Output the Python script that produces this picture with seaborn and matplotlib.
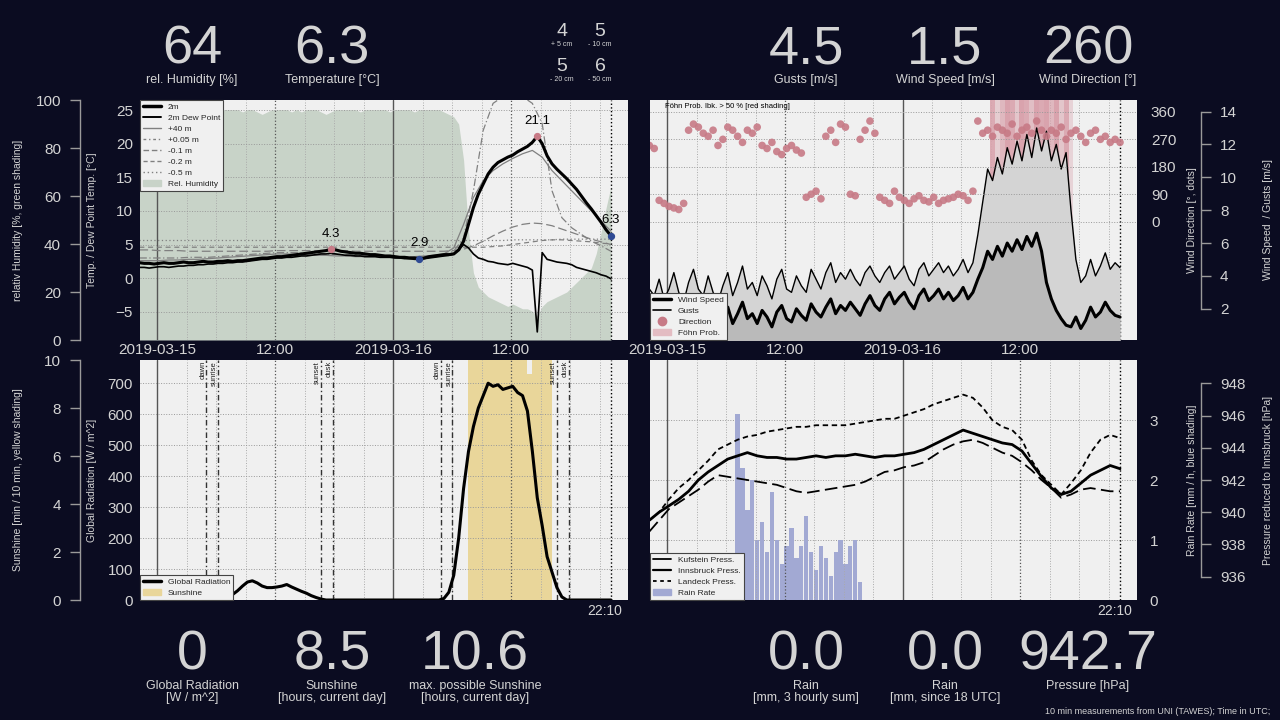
import numpy as np
import pandas as pd
import seaborn as sns
import matplotlib
matplotlib.use('Agg')
from matplotlib import pyplot as plt
import matplotlib.dates as mdates
from matplotlib.patches import Patch
from matplotlib.lines import Line2D

sns.set_style('white')
plt.rcParams['font.family'] = ['Liberation Sans', 'DejaVu Sans']

BG = '#0b0c21'
FG = '#d4d4d4'
PANEL = '#f0f0f0'
W, H = 1280, 720

# ---- time axes (10 min data resampled to 30 min / 60 min) ----
t30 = pd.date_range('2019-03-14 22:10', '2019-03-16 22:10', freq='30min')
t60 = pd.date_range('2019-03-14 22:10', '2019-03-16 22:10', freq='60min')
NOW = pd.Timestamp('2019-03-16 22:10')
X0 = pd.Timestamp('2019-03-14 22:14')
X1 = pd.Timestamp('2019-03-16 23:54')

# ---- temperature / humidity (30 min) ----
t2m = [2.3, 2.2, 2.2, 2.1, 2.2, 2.3, 2.2, 2.2, 2.3, 2.4,
       2.3, 2.3, 2.4, 2.5, 2.4, 2.4, 2.5, 2.5, 2.6, 2.5,
       2.6, 2.6, 2.7, 2.8, 2.9, 3.0, 3.0, 3.1, 3.2, 3.2,
       3.3, 3.4, 3.5, 3.6, 3.7, 3.8, 3.9, 4.0, 4.1, 4.3,
       4.2, 4.0, 3.9, 3.8, 3.7, 3.7, 3.6, 3.5, 3.5, 3.4,
       3.3, 3.3, 3.2, 3.1, 3.1, 3.0, 3.0, 2.9, 3.0, 3.2,
       3.3, 3.4, 3.5, 3.5, 3.6, 4.2, 5.5, 8.0, 10.5, 12.5,
       14.0, 15.5, 16.5, 17.2, 17.6, 18.0, 18.3, 18.8, 19.2, 19.6,
       20.2, 21.1, 20.0, 18.2, 17.0, 16.2, 15.5, 14.8, 14.0, 13.2,
       12.2, 11.2, 10.3, 9.3, 8.3, 7.2, 6.3]
dewp = [1.6, 1.6, 1.5, 1.6, 1.7, 1.7, 1.6, 1.7, 1.8, 1.8,
        1.9, 1.9, 2.0, 2.0, 2.1, 2.1, 2.2, 2.2, 2.3, 2.3,
        2.4, 2.4, 2.5, 2.6, 2.7, 2.8, 2.8, 2.9, 3.0, 3.0,
        3.1, 3.1, 3.2, 3.3, 3.3, 3.4, 3.5, 3.6, 3.6, 3.7,
        3.6, 3.5, 3.4, 3.4, 3.3, 3.3, 3.2, 3.2, 3.2, 3.1,
        3.1, 3.1, 3.0, 3.0, 2.9, 2.9, 2.8, 2.8, 2.9, 3.0,
        3.1, 3.2, 3.3, 3.4, 3.6, 4.2, 5.0, 4.5, 3.6, 3.0,
        2.8, 2.5, 2.4, 2.2, 2.1, 2.0, 2.2, 2.0, 1.8, 1.6,
        1.2, -8.0, 3.8, 2.8, 2.6, 2.4, 2.3, 2.2, 2.0, 1.6,
        1.4, 1.2, 1.0, 0.8, 0.5, 0.3, -0.1]
rh = [96, 96, 95, 96, 96, 97, 96, 96, 95, 95,
      96, 96, 96, 95, 94, 95, 96, 96, 96, 96,
      96, 95, 96, 96, 95, 94, 95, 96, 96, 96,
      96, 95, 96, 95, 96, 96, 96, 95, 94, 95,
      96, 96, 96, 96, 96, 95, 96, 96, 96, 96,
      96, 95, 96, 96, 96, 96, 95, 96, 96, 96,
      96, 96, 95, 94, 93, 90, 75, 45, 28, 22,
      20, 18, 17, 16, 15, 14, 15, 14, 13, 13,
      12, 10, 14, 16, 17, 18, 19, 20, 22, 24,
      26, 28, 30, 36, 45, 55, 64]

# ---- air / soil temperatures (60 min) ----
t40m = [2.6, 2.6, 2.6, 2.7, 2.7, 2.8, 2.8, 2.9, 3.0, 3.1,
        3.2, 3.3, 3.4, 3.5, 3.6, 3.6, 3.5, 3.5, 3.4, 3.4,
        3.3, 3.3, 3.2, 3.2, 3.2, 3.1, 3.1, 3.1, 3.2, 3.3,
        3.4, 3.6, 4.5, 8.0, 12.0, 14.5, 16.0, 17.0, 17.8, 18.5,
        19.0, 18.0, 16.0, 14.5, 13.0, 11.5, 10.0, 8.5, 7.0]
t005 = [3.0, 3.0, 3.0, 3.0, 3.0, 3.1, 3.1, 3.1, 3.2, 3.3,
        3.4, 3.5, 3.6, 3.7, 3.8, 3.8, 3.8, 3.7, 3.6, 3.6,
        3.5, 3.5, 3.4, 3.4, 3.3, 3.3, 3.2, 3.2, 3.2, 3.2,
        3.3, 3.5, 4.0, 6.0, 13.0, 22.0, 26.0, 27.0, 27.5, 27.0,
        26.0, 23.0, 13.0, 9.0, 7.5, 6.5, 5.5, 4.8, 4.0]
t010 = [4.2, 4.2, 4.1, 4.1, 4.1, 4.0, 4.0, 4.0, 4.0, 4.0,
        4.0, 4.0, 4.0, 4.0, 4.1, 4.1, 4.1, 4.1, 4.1, 4.1,
        4.1, 4.1, 4.0, 4.0, 4.0, 4.0, 4.0, 4.0, 4.0, 4.0,
        4.0, 4.0, 4.1, 4.3, 4.8, 5.5, 6.3, 7.0, 7.6, 8.0,
        8.2, 8.1, 7.8, 7.3, 6.8, 6.3, 5.8, 5.4, 5.0]
t020 = [4.6, 4.6, 4.6, 4.6, 4.6, 4.6, 4.6, 4.6, 4.6, 4.6,
        4.6, 4.6, 4.6, 4.6, 4.6, 4.6, 4.6, 4.6, 4.6, 4.6,
        4.6, 4.6, 4.6, 4.6, 4.6, 4.6, 4.6, 4.6, 4.6, 4.6,
        4.6, 4.6, 4.6, 4.6, 4.6, 4.6, 4.7, 4.8, 5.0, 5.2,
        5.4, 5.6, 5.7, 5.7, 5.6, 5.5, 5.4, 5.2, 5.1]
t050 = [5.6, 5.6, 5.6, 5.6, 5.6, 5.6, 5.6, 5.6, 5.6, 5.6,
        5.6, 5.6, 5.6, 5.6, 5.6, 5.6, 5.6, 5.6, 5.6, 5.6,
        5.6, 5.6, 5.6, 5.6, 5.6, 5.6, 5.6, 5.6, 5.6, 5.6,
        5.6, 5.6, 5.6, 5.6, 5.6, 5.6, 5.6, 5.6, 5.7, 5.7,
        5.7, 5.7, 5.7, 5.8, 5.8, 5.8, 5.8, 5.8, 5.8]

# ---- wind (30 min) ----
wspd = [1.4, 1.1, 1.8, 0.9, 1.5, 2.0, 1.2, 0.8, 1.7, 2.2,
        1.4, 1.0, 1.9, 1.3, 0.8, 1.5, 2.1, 1.1, 1.7, 2.4,
        1.4, 1.7, 1.1, 1.9, 1.5, 0.9, 1.8, 2.2, 1.4, 1.2,
        2.0, 1.6, 1.3, 2.3, 1.8, 1.5, 2.1, 2.6, 1.7, 2.2,
        1.9, 2.4, 2.0, 1.6, 2.3, 2.8, 2.2, 1.9, 2.6, 3.0,
        2.3, 2.7, 3.0, 2.4, 2.0, 2.8, 3.2, 2.5, 2.8, 3.2,
        2.6, 3.0, 2.5, 2.8, 3.3, 2.6, 3.0, 3.8, 4.5, 5.5,
        5.0, 5.8, 5.2, 6.0, 5.5, 6.2, 5.6, 6.4, 5.8, 6.6,
        5.5, 3.6, 2.6, 1.9, 1.4, 1.0, 0.9, 1.5, 0.8, 1.3,
        2.1, 1.5, 1.8, 2.4, 1.9, 1.6, 1.5]
gust = [3.2, 2.8, 3.8, 2.6, 3.2, 4.2, 3.0, 2.4, 3.6, 4.4,
        3.2, 2.8, 4.0, 3.0, 2.4, 3.4, 4.2, 2.8, 3.6, 4.6,
        3.2, 3.6, 2.8, 4.0, 3.4, 2.6, 3.8, 4.4, 3.2, 3.0,
        4.0, 3.4, 3.0, 4.4, 3.8, 3.2, 4.2, 4.8, 3.6, 4.2,
        3.8, 4.4, 3.8, 3.4, 4.2, 4.6, 4.0, 3.6, 4.2, 4.6,
        3.8, 4.2, 4.6, 3.8, 3.4, 4.4, 4.8, 4.0, 4.4, 4.8,
        4.2, 4.6, 4.0, 4.4, 5.0, 4.2, 4.8, 6.5, 8.5, 10.5,
        9.8, 11.2, 10.2, 11.8, 10.8, 12.2, 11.0, 12.6, 11.2, 13.0,
        11.6, 12.8, 11.0, 12.0, 10.5, 11.5, 8.0, 5.0, 3.6, 4.0,
        5.0, 4.0, 4.6, 5.4, 4.4, 4.8, 4.5]
wdir = [250, 240, 70, 60, 50, 45, 40, 60, 300, 320,
        310, 290, 280, 300, 250, 270, 310, 300, 280, 260,
        300, 290, 310, 250, 240, 260, 230, 220, 240, 250,
        235, 225, 80, 90, 100, 75, 280, 300, 260, 320,
        310, 90, 85, 270, 300, 330, 290, 80, 70, 60,
        100, 80, 70, 60, 75, 85, 70, 65, 80, 60,
        70, 75, 80, 90, 85, 70, 100, 330, 290, 300,
        280, 310, 300, 290, 320, 280, 300, 310, 290, 330,
        300, 280, 300, 290, 310, 270, 290, 300, 280, 260,
        290, 300, 270, 280, 260, 270, 260]
foehn = [0] * 68 + [30, 45, 90, 65, 80, 95, 90, 70, 95, 90, 75, 95, 90, 95, 80, 95, 70, 90, 60, 40] + [0] * 9

# ---- radiation / sunshine (30 min) ----
grad = [0, 0, 0, 0, 0, 0, 0, 0, 0, 0,
        0, 0, 0, 0, 0, 0, 0, 0, 5, 18,
        30, 45, 58, 62, 55, 45, 40, 40, 42, 45,
        50, 42, 35, 28, 22, 14, 8, 3, 0, 0,
        0, 0, 0, 0, 0, 0, 0, 0, 0, 0,
        0, 0, 0, 0, 0, 0, 0, 0, 0, 0,
        0, 0, 5, 25, 80, 200, 360, 480, 560, 620,
        660, 700, 690, 695, 680, 685, 690, 670, 660, 610,
        480, 330, 240, 140, 90, 40, 10, 0, 0, 0,
        0, 0, 0, 0, 0, 0, 0]
sun = [0] * 67 + [10, 10, 10, 10, 10, 10, 10, 10, 10, 10, 10, 10, 9.4, 10, 10, 10, 10] + [0] * 13
sun_events = ['dawn', 'sunrise', 'sunset', 'dusk', 'dawn', 'sunrise', 'sunset', 'dusk']
sun_times = pd.to_datetime(['2019-03-15 04:59', '2019-03-15 06:10', '2019-03-15 16:39', '2019-03-15 17:52',
                            '2019-03-16 04:51', '2019-03-16 06:02', '2019-03-16 16:39', '2019-03-16 17:52'])

# ---- pressure (60 min) / rain (30 min) ----
p_ibk = [939.5, 940.0, 940.4, 940.8, 941.3, 942.0, 942.5, 942.9, 943.3, 943.5,
         943.7, 943.5, 943.4, 943.4, 943.3, 943.3, 943.4, 943.5, 943.4, 943.5,
         943.5, 943.6, 943.5, 943.4, 943.5, 943.5, 943.6, 943.7, 943.9, 944.2,
         944.5, 944.8, 945.1, 944.9, 944.7, 944.5, 944.3, 944.2, 943.8, 943.0,
         942.2, 941.5, 941.1, 941.3, 941.8, 942.3, 942.6, 942.9, 942.7]
p_kuf = [938.8, 939.5, 940.2, 940.6, 941.0, 941.4, 941.9, 942.3, 942.2, 942.1,
         942.0, 941.9, 941.8, 941.7, 941.5, 941.3, 941.2, 941.3, 941.4, 941.5,
         941.6, 941.7, 941.9, 942.2, 942.5, 942.6, 942.8, 942.9, 943.1, 943.5,
         943.9, 944.2, 944.4, 944.5, 944.3, 944.0, 943.7, 943.5, 943.1, 942.6,
         942.0, 941.5, 940.9, 941.1, 941.4, 941.5, 941.4, 941.3, 941.3]
p_lan = [939.5, 940.0, 940.8, 941.5, 942.0, 942.6, 943.2, 943.9, 944.2, 944.5,
         944.7, 944.8, 945.0, 945.1, 945.2, 945.3, 945.3, 945.4, 945.4, 945.4,
         945.4, 945.5, 945.6, 945.7, 945.8, 945.8, 946.0, 946.2, 946.4, 946.7,
         946.9, 947.1, 947.3, 947.1, 946.5, 945.7, 945.3, 945.1, 944.5, 943.2,
         942.3, 941.7, 941.1, 941.8, 942.6, 943.7, 944.5, 944.8, 944.6]
rain = [0] * 18 + [3.1, 2.2, 1.5, 2.0, 1.0, 1.3, 0.8, 1.8, 1.0, 0.6, 0.9, 1.2,
                   0.7, 0.9, 1.4, 0.8, 0.5, 0.9, 0.7, 0.4, 0.8, 1.0, 0.6, 0.9, 1.0, 0.3] + [0] * 53

# ---- current values ----
top_vals = [('64', 'rel. Humidity [%]', 192), ('6.3', 'Temperature [°C]', 332),
            ('4.5', 'Gusts [m/s]', 806), ('1.5', 'Wind Speed [m/s]', 945), ('260', 'Wind Direction [°]', 1088)]
soil_vals = [('4', '+ 5 cm'), ('5', '- 10 cm'), ('5', '- 20 cm'), ('6', '- 50 cm')]
bot_vals = [('0', 'Global Radiation\n[W / m^2]', 192), ('8.5', 'Sunshine\n[hours, current day]', 332),
            ('10.6', 'max. possible Sunshine\n[hours, current day]', 475),
            ('0.0', 'Rain\n[mm, 3 hourly sum]', 806), ('0.0', 'Rain\n[mm, since 18 UTC]', 945),
            ('942.7', 'Pressure [hPa]', 1088)]

df30 = pd.DataFrame({'time': t30, 't2m': t2m, 'dewp': dewp, 'rh': rh, 'wspd': wspd, 'gust': gust,
                     'wdir': wdir, 'foehn': foehn, 'grad': grad, 'sun': sun, 'rain': rain})
df60 = pd.DataFrame({'time': t60, 't40m': t40m, 't005': t005, 't010': t010, 't020': t020, 't050': t050,
                     'p_ibk': p_ibk, 'p_kuf': p_kuf, 'p_lan': p_lan})


def box(x0, y0, x1, y1):
    return [x0 / W, 1 - y1 / H, (x1 - x0) / W, (y1 - y0) / H]


def clean(ax):
    for s in ax.spines.values():
        s.set_visible(False)


def time_axis(ax, labels):
    ax.set_xlim(X0, X1)
    ticks = pd.to_datetime(['2019-03-15 00:00', '2019-03-15 12:00', '2019-03-16 00:00', '2019-03-16 12:00'])
    ax.set_xticks(ticks)
    ax.set_xticklabels(['2019-03-15', '12:00', '2019-03-16', '12:00'] if labels else [])
    ax.tick_params(axis='x', length=0, pad=2, labelsize=11, labelcolor=FG)
    ax.set_xlabel('')


def vgrid(ax):
    for h in range(-3, 48, 3):
        t = pd.Timestamp('2019-03-15') + pd.Timedelta(hours=h)
        if h % 24 == 0:
            ax.axvline(t, color='#555555', lw=1.0, zorder=0.5)
        elif h % 12 == 0:
            ax.axvline(t, color='#555555', lw=0.9, ls=':', zorder=0.5)
        else:
            ax.axvline(t, color='#aaaaaa', lw=0.7, ls=':', zorder=0.5)
    ax.axvline(NOW, color='black', lw=1.0, ls=':', zorder=0.6)


def outer(ax, side, px, lo, hi):
    sp = ax.spines[side]
    sp.set_visible(True)
    sp.set_position(('outward', px * 0.72))
    sp.set_bounds(lo, hi)
    sp.set_color('#9a9a9a')
    sp.set_linewidth(1)
    ax.tick_params(axis='y', direction='out', length=7.2, width=1, color='#9a9a9a',
                   pad=6.5, labelsize=11, labelcolor=FG)


def inner(ax, pad):
    ax.tick_params(axis='y', length=0, pad=pad, labelsize=11, labelcolor=FG)


def ylabel(ax, text, xpx, left_edge, width):
    ax.set_ylabel(text, color=FG, fontsize=7.5)
    ax.yaxis.set_label_coords((xpx - left_edge) / width, 0.5)


def legend(ax, handles, labels, loc):
    lg = ax.legend(handles, labels, loc=loc, borderaxespad=0, fontsize=6, frameon=True, fancybox=False,
                   framealpha=1, facecolor=PANEL, edgecolor='#444444', handlelength=2.2,
                   labelspacing=0.38, borderpad=0.35, handletextpad=0.8)
    lg.get_frame().set_linewidth(0.8)
    lg.set_zorder(20)


fig = plt.figure(figsize=(12.8, 7.2), dpi=100, facecolor=BG)
AW = 488

# ================= top left: temperature / humidity =================
ax_rh = fig.add_axes(box(140, 100, 628, 340), facecolor=PANEL)
ax_t = ax_rh.twinx()
clean(ax_rh); clean(ax_t)
ax_rh.fill_between(df30['time'], 0, df30['rh'], color='#c8d3c8', lw=0, zorder=1)
ax_rh.set_ylim(0, 100)
ax_rh.set_yticks([0, 20, 40, 60, 80, 100])
outer(ax_rh, 'left', 60, 0, 100)
ylabel(ax_rh, 'relativ Humidity [%, green shading]', 23, 140, AW)
time_axis(ax_rh, True)

ax_t.yaxis.tick_left()
ax_t.yaxis.set_label_position('left')
vgrid(ax_t)
grey = '#808080'
sns.lineplot(data=df60, x='time', y='t050', ax=ax_t, color=grey, lw=0.9, ls=(0, (1, 2)))
sns.lineplot(data=df60, x='time', y='t020', ax=ax_t, color=grey, lw=0.9, ls=(0, (4, 3)))
sns.lineplot(data=df60, x='time', y='t010', ax=ax_t, color=grey, lw=0.9, ls=(0, (7, 3)))
sns.lineplot(data=df60, x='time', y='t005', ax=ax_t, color=grey, lw=0.9, ls=(0, (6, 2, 1, 2)))
sns.lineplot(data=df60, x='time', y='t40m', ax=ax_t, color=grey, lw=0.9)
sns.lineplot(data=df30, x='time', y='dewp', ax=ax_t, color='black', lw=1.2)
sns.lineplot(data=df30, x='time', y='t2m', ax=ax_t, color='black', lw=2.2)
ax_t.set_ylim(-9.2, 26.5)
ax_t.set_yticks([-5, 0, 5, 10, 15, 20, 25])
ax_t.grid(axis='y', color='#999999', ls=':', lw=0.7)
inner(ax_t, 5)
ylabel(ax_t, 'Temp. / Dew Point Temp. [°C]', 97, 140, AW)
ax_t.set_xlim(X0, X1)

marks = [(39, '#c77a86'), (57, '#2f4a94'), (81, '#c77a86'), (96, '#2f4a94')]
for i, c in marks:
    ax_t.scatter(df30['time'][i], t2m[i], s=18, color=c, zorder=6)
    ax_t.annotate(f'{t2m[i]:.1f}', (df30['time'][i], t2m[i]), xytext=(0, 7), textcoords='offset points',
                  ha='center', va='bottom', fontsize=9.5, color='black', zorder=7)

legend(ax_t,
       [Line2D([], [], color='black', lw=2.5), Line2D([], [], color='black', lw=1.4),
        Line2D([], [], color=grey, lw=1), Line2D([], [], color=grey, lw=1, ls=(0, (2, 2, 1, 2))),
        Line2D([], [], color=grey, lw=1, ls=(0, (4, 2))), Line2D([], [], color=grey, lw=1, ls=(0, (3, 2))),
        Line2D([], [], color=grey, lw=1, ls=(0, (1, 2))), Patch(color='#c8d3c8')],
       ['2m', '2m Dew Point', '+40 m', '+0.05 m', '-0.1 m', '-0.2 m', '-0.5 m', 'Rel. Humidity'],
       'upper left')

# ================= top right: wind =================
ax_w = fig.add_axes(box(650, 100, 1137, 340), facecolor=PANEL)
ax_d = ax_w.twinx()
clean(ax_w); clean(ax_d)
for i, p in enumerate(foehn):
    if p > 50:
        ax_w.axvspan(df30['time'][i] - pd.Timedelta(minutes=15), df30['time'][i] + pd.Timedelta(minutes=15),
                     color='#d9a3ad', alpha=min(1.0, (p - 40) / 55), lw=0, zorder=0.8)
ax_w.fill_between(df30['time'], 0, df30['gust'], color='#d4d4d4', lw=0, zorder=1)
ax_w.fill_between(df30['time'], 0, df30['wspd'], color='#bababa', lw=0, zorder=1.1)
vgrid(ax_w)
sns.lineplot(data=df30, x='time', y='gust', ax=ax_w, color='black', lw=1.0, zorder=3)
sns.lineplot(data=df30, x='time', y='wspd', ax=ax_w, color='black', lw=2.2, zorder=3)
ax_w.set_ylim(0.1, 14.7)
ax_w.yaxis.tick_right()
ax_w.yaxis.set_label_position('right')
ax_w.set_yticks([2, 4, 6, 8, 10, 12, 14])
outer(ax_w, 'right', 64, 2, 14)
ylabel(ax_w, 'Wind Speed  / Gusts [m/s]', 1263, 650, 487)
time_axis(ax_w, True)

sns.scatterplot(data=df30, x='time', y='wdir', ax=ax_d, color='#c77a86', s=30, alpha=0.9,
                edgecolor='none', zorder=5)
ax_d.set_ylim(-388, 399)
ax_d.set_yticks([0, 90, 180, 270, 360])
ax_d.grid(axis='y', color='#999999', ls=':', lw=0.7)
inner(ax_d, 10)
ax_d.tick_params(axis='y', left=False, right=True, labelleft=False, labelright=True)
ylabel(ax_d, 'Wind Direction [°, dots]', 1187, 650, 487)
ax_d.set_xlim(X0, X1)
ax_d.text(0.03, 0.988, 'Föhn Prob. Ibk. > 50 % [red shading]', transform=ax_d.transAxes,
          fontsize=5.5, va='top', ha='left', color='black')
legend(ax_d,
       [Line2D([], [], color='black', lw=2.5), Line2D([], [], color='black', lw=1.2),
        Line2D([], [], color='#c77a86', marker='o', ls='none', ms=6), Patch(color='#e3bcc2')],
       ['Wind Speed', 'Gusts', 'Direction', 'Föhn Prob.'], 'lower left')

# ================= bottom left: radiation / sunshine =================
ax_s = fig.add_axes(box(140, 360, 628, 600), facecolor=PANEL)
ax_g = ax_s.twinx()
clean(ax_s); clean(ax_g)
ax_s.fill_between(df30['time'], 0, df30['sun'], step='post', color='#e9d69a', lw=0, zorder=1)
ax_s.set_ylim(0, 10)
ax_s.set_yticks([0, 2, 4, 6, 8, 10])
outer(ax_s, 'left', 60, 0, 10)
ylabel(ax_s, 'Sunshine [min / 10 min, yellow shading]', 23, 140, AW)
time_axis(ax_s, False)

ax_g.yaxis.tick_left()
ax_g.yaxis.set_label_position('left')
vgrid(ax_g)
for name, t in zip(sun_events, sun_times):
    ax_g.axvline(t, color='#333333', lw=1.0, ls=(0, (4, 2, 1, 2)), zorder=2)
    ax_g.text(t, 772, name, rotation=90, ha='right', va='top', fontsize=5.5, color='#222222')
sns.lineplot(data=df30, x='time', y='grad', ax=ax_g, color='black', lw=2.2, zorder=4)
ax_g.set_ylim(0, 775)
ax_g.set_yticks([0, 100, 200, 300, 400, 500, 600, 700])
ax_g.grid(axis='y', color='#999999', ls=':', lw=0.7)
inner(ax_g, 5)
ylabel(ax_g, 'Global Radiation [W / m^2]', 97, 140, AW)
ax_g.set_xlim(X0, X1)
legend(ax_g, [Line2D([], [], color='black', lw=2.5), Patch(color='#e9d69a')],
       ['Global Radiation', 'Sunshine'], 'lower left')

# ================= bottom right: pressure / rain =================
ax_r = fig.add_axes(box(650, 360, 1137, 600), facecolor=PANEL)
ax_p = ax_r.twinx()
clean(ax_r); clean(ax_p)
ax_r.bar(mdates.date2num(df30['time']), df30['rain'], width=26 / 1440, align='center',
         color='#a2a9d3', lw=0, zorder=1)
ax_r.yaxis.tick_right()
ax_r.set_ylim(0, 4)
ax_r.set_yticks([0, 1, 2, 3])
ax_r.grid(axis='y', color='#999999', ls=':', lw=0.7)
inner(ax_r, 9)
ax_r.tick_params(axis='y', left=False, right=True, labelleft=False, labelright=True)
ax_r.yaxis.set_label_position('right')
ylabel(ax_r, 'Rain Rate [mm / h, blue shading]', 1187, 650, 487)
time_axis(ax_r, False)

vgrid(ax_p)
sns.lineplot(data=df60, x='time', y='p_kuf', ax=ax_p, color='black', lw=1.3, ls=(0, (7, 3)))
sns.lineplot(data=df60, x='time', y='p_ibk', ax=ax_p, color='black', lw=2.0)
sns.lineplot(data=df60, x='time', y='p_lan', ax=ax_p, color='black', lw=1.3, ls=(0, (3, 2)))
ax_p.set_ylim(934.55, 949.45)
ax_p.set_yticks([936, 938, 940, 942, 944, 946, 948])
outer(ax_p, 'right', 64, 936, 948)
ylabel(ax_p, 'Pressure reduced to Innsbruck [hPa]', 1263, 650, 487)
ax_p.set_xlim(X0, X1)
legend(ax_p, [Line2D([], [], color='black', lw=1.3), Line2D([], [], color='black', lw=1.6),
              Line2D([], [], color='black', lw=1.3, ls=(0, (2, 2))), Patch(color='#a2a9d3')],
       ['Kufstein Press.', 'Innsbruck Press.', 'Landeck Press.', 'Rain Rate'], 'lower left')

# ================= current values =================
for val, lab, x in top_vals:
    fig.text(x / W, 1 - 64 / H, val, ha='center', va='baseline', fontsize=39, color=FG)
    fig.text(x / W, 1 - 83 / H, lab, ha='center', va='baseline', fontsize=9, color=FG)
for k, (val, lab) in enumerate(soil_vals):
    x = 562 if k % 2 == 0 else 600
    yb = 36 if k < 2 else 71
    fig.text(x / W, 1 - yb / H, val, ha='center', va='baseline', fontsize=14, color=FG)
    fig.text(x / W, 1 - (yb + 10) / H, lab, ha='center', va='baseline', fontsize=5, color=FG)
for val, lab, x in bot_vals:
    fig.text(x / W, 1 - 669 / H, val, ha='center', va='baseline', fontsize=40, color=FG)
    fig.text(x / W, 1 - 680 / H, lab, ha='center', va='top', fontsize=9, color=FG, linespacing=1.0)
fig.text(605 / W, 1 - 615 / H, '22:10', ha='center', va='baseline', fontsize=10, color=FG)
fig.text(1115 / W, 1 - 615 / H, '22:10', ha='center', va='baseline', fontsize=10, color=FG)
fig.text(1270 / W, 1 - 714 / H, '10 min measurements from UNI (TAWES); Time in UTC;', ha='right',
         va='baseline', fontsize=6.5, color=FG)

fig.savefig('out.png', dpi=100, facecolor=BG)
